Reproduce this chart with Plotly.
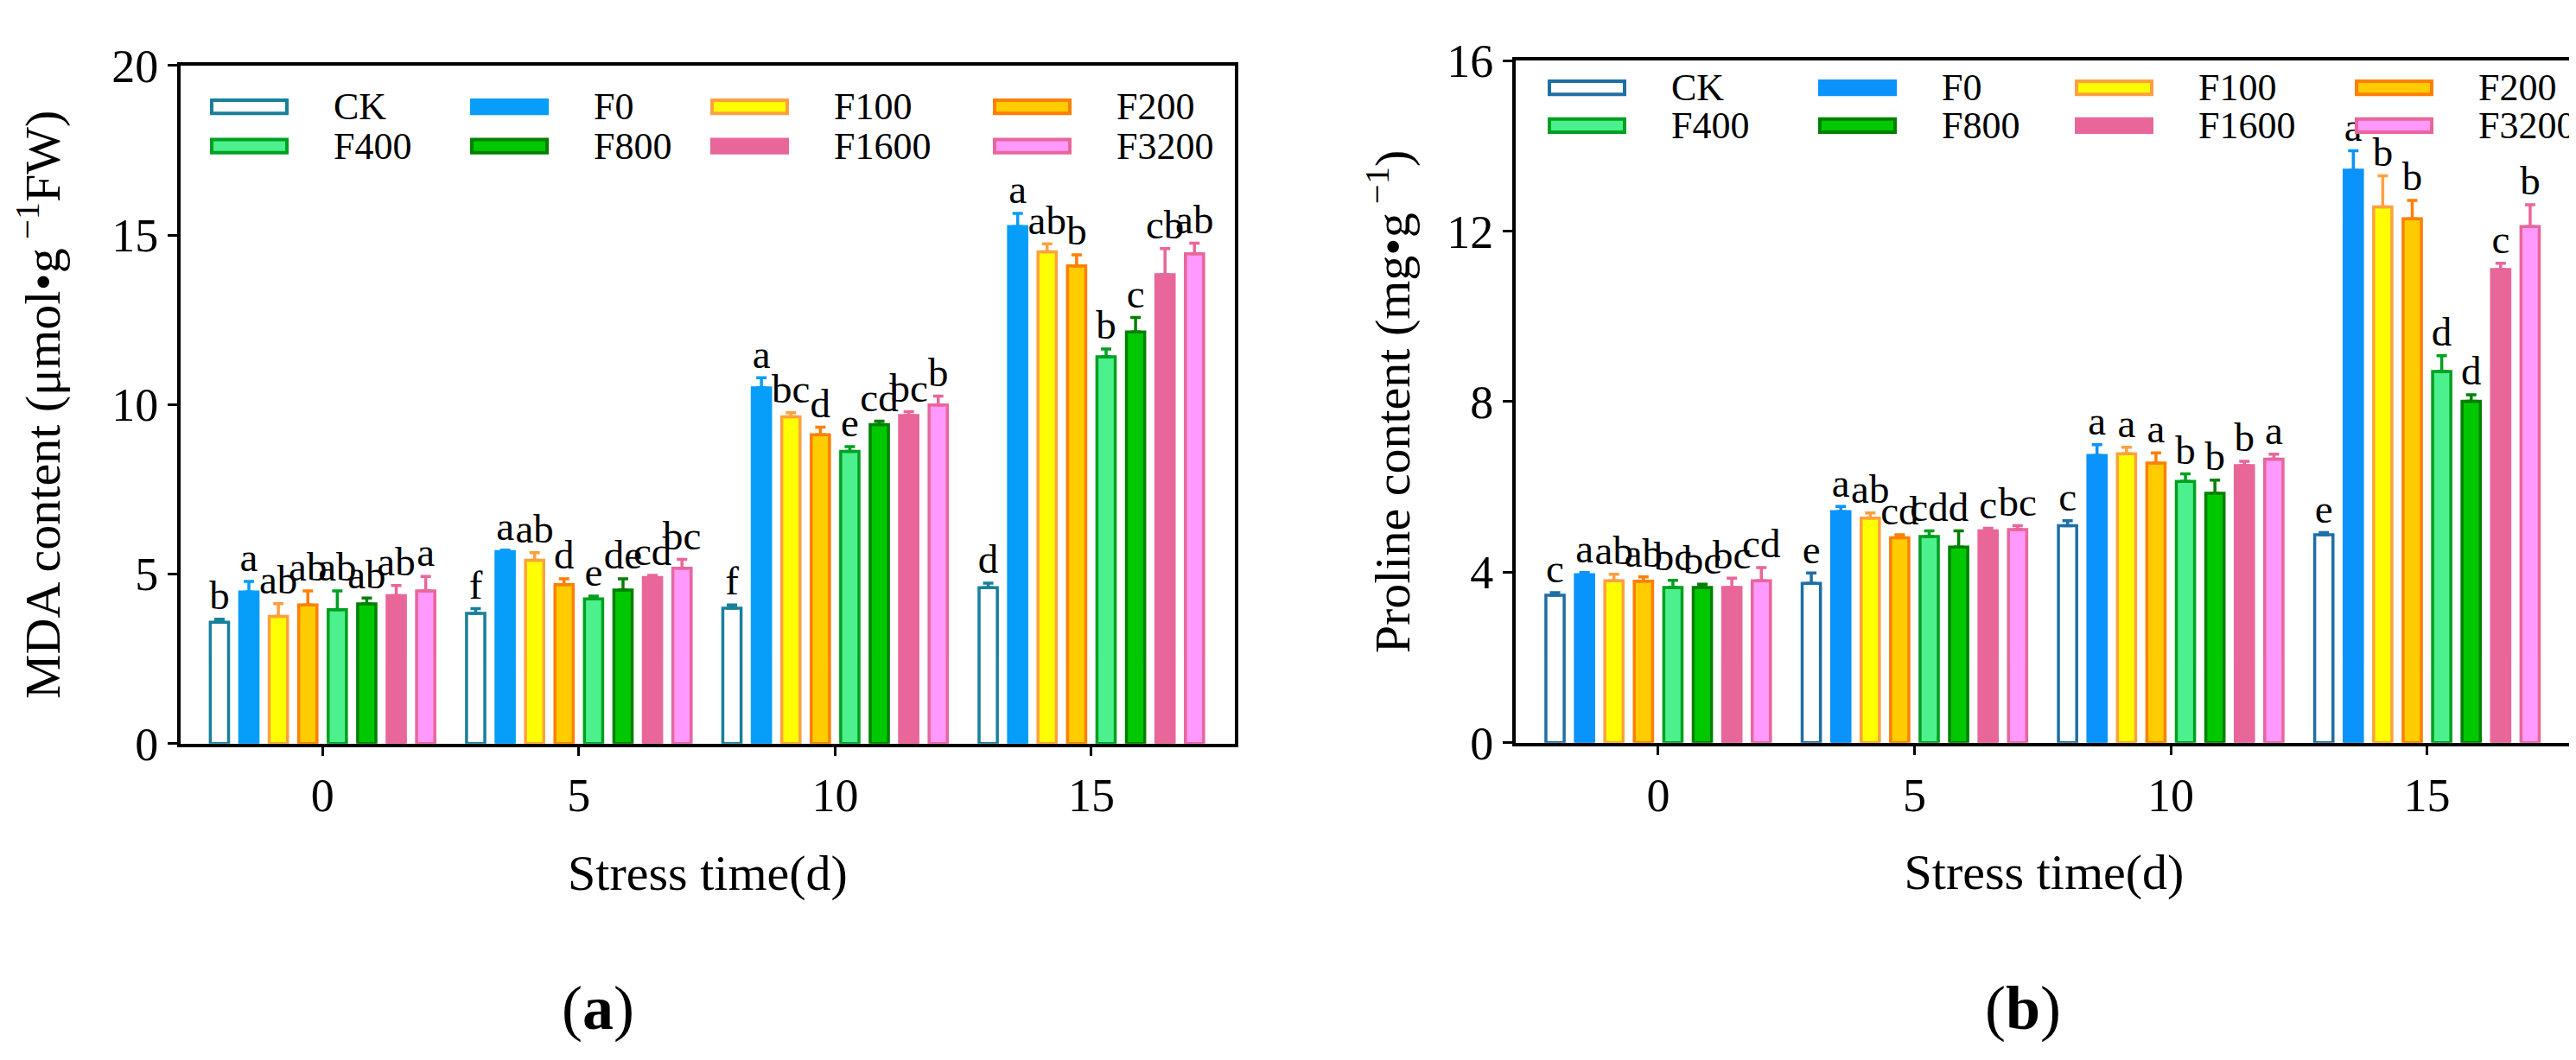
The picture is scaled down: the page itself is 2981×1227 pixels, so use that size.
import plotly.graph_objects as go

# ---------------- data ----------------
days = [0, 5, 10, 15]
treatments = ["CK", "F0", "F100", "F200", "F400", "F800", "F1600", "F3200"]

mda_mean = {
    "CK":    [3.58, 3.84, 3.99, 4.60],
    "F0":    [4.47, 5.66, 10.49, 15.25],
    "F100":  [3.75, 5.41, 9.64, 14.51],
    "F200":  [4.09, 4.69, 9.11, 14.09],
    "F400":  [3.95, 4.27, 8.62, 11.41],
    "F800":  [4.12, 4.53, 9.41, 12.14],
    "F1600": [4.36, 4.90, 9.68, 13.83],
    "F3200": [4.50, 5.17, 9.99, 14.45],
}
mda_err = {
    "CK":    [0.09, 0.14, 0.10, 0.13],
    "F0":    [0.31, 0.05, 0.30, 0.39],
    "F100":  [0.38, 0.22, 0.12, 0.23],
    "F200":  [0.41, 0.17, 0.22, 0.33],
    "F400":  [0.55, 0.08, 0.14, 0.23],
    "F800":  [0.17, 0.33, 0.10, 0.43],
    "F1600": [0.30, 0.06, 0.11, 0.77],
    "F3200": [0.43, 0.26, 0.26, 0.31],
}
mda_letters = {
    "CK":    ["b", "f", "f", "d"],
    "F0":    ["a", "a", "a", "a"],
    "F100":  ["ab", "ab", "bc", "ab"],
    "F200":  ["ab", "d", "d", "b"],
    "F400":  ["ab", "e", "e", "b"],
    "F800":  ["ab", "de", "cd", "c"],
    "F1600": ["ab", "cd", "bc", "cb"],
    "F3200": ["a", "bc", "b", "ab"],
}

pro_mean = {
    "CK":    [3.46, 3.74, 5.09, 4.88],
    "F0":    [3.94, 5.42, 6.74, 13.43],
    "F100":  [3.80, 5.27, 6.78, 12.57],
    "F200":  [3.79, 4.81, 6.56, 12.29],
    "F400":  [3.64, 4.84, 6.13, 8.71],
    "F800":  [3.64, 4.59, 5.85, 8.01],
    "F1600": [3.64, 4.97, 6.50, 11.10],
    "F3200": [3.80, 5.00, 6.65, 12.11],
}
pro_err = {
    "CK":    [0.06, 0.24, 0.12, 0.05],
    "F0":    [0.05, 0.12, 0.25, 0.46],
    "F100":  [0.15, 0.12, 0.15, 0.73],
    "F200":  [0.10, 0.07, 0.24, 0.43],
    "F400":  [0.17, 0.13, 0.18, 0.37],
    "F800":  [0.08, 0.38, 0.31, 0.15],
    "F1600": [0.22, 0.06, 0.10, 0.15],
    "F3200": [0.31, 0.09, 0.12, 0.51],
}
pro_letters = {
    "CK":    ["c", "e", "c", "e"],
    "F0":    ["a", "a", "a", "a"],
    "F100":  ["ab", "ab", "a", "b"],
    "F200":  ["ab", "cd", "a", "b"],
    "F400":  ["bc", "cd", "b", "d"],
    "F800":  ["bc", "d", "b", "d"],
    "F1600": ["bc", "c", "b", "c"],
    "F3200": ["cd", "bc", "a", "b"],
}

# ---------------- style ----------------
W, H = 2981, 1227
SERIF = "Liberation Serif, Times New Roman, serif"
fills = {"CK": "#ffffff", "F0": "#069ef9", "F100": "#ffff00", "F200": "#ffcc00",
         "F400": "#4cf08c", "F800": "#00c800", "F1600": "#e8669a", "F3200": "#ff99ff"}
edges_a = {"CK": "#17809a", "F0": "#069ef9", "F100": "#ffa040", "F200": "#ff7f00",
           "F400": "#00a020", "F800": "#008000", "F1600": "#e8669a", "F3200": "#e8669a"}
edges_b = dict(edges_a, CK="#1d6fa5", F0="#0a93fa")
fills_b = dict(fills, F0="#0a93fa")

BARGAP = 0.08
BARGROUPGAP = 0.38
slot = 5 * (1 - BARGAP) / len(treatments)

fig = go.Figure()

panels = [
    dict(mean=mda_mean, err=mda_err, let=mda_letters, xa="x", ya="y", fills=fills, edges=edges_a),
    dict(mean=pro_mean, err=pro_err, let=pro_letters, xa="x2", ya="y2", fills=fills_b, edges=edges_b),
]

for p in panels:
    for i, t in enumerate(treatments):
        fig.add_trace(go.Bar(
            x=days, y=p["mean"][t], name=t, showlegend=False,
            xaxis=p["xa"], yaxis=p["ya"],
            marker=dict(color=p["fills"][t], line=dict(color=p["edges"][t], width=3.5)),
            error_y=dict(type="data", symmetric=False, array=p["err"][t],
                         arrayminus=[0] * len(days), color=p["edges"][t],
                         thickness=3.5, width=6),
        ))
    for i, t in enumerate(treatments):
        off = (i - (len(treatments) - 1) / 2) * slot
        fig.add_trace(go.Scatter(
            x=[d + off for d in days],
            y=[m + e for m, e in zip(p["mean"][t], p["err"][t])],
            mode="text", text=p["let"][t], textposition="top center",
            textfont=dict(family=SERIF, size=47, color="black"),
            xaxis=p["xa"], yaxis=p["ya"], showlegend=False, hoverinfo="skip",
            cliponaxis=False,
        ))

# manual legends (swatches + labels), positions in page pixels
legend_cols = [[237, 538, 816, 1143], [1785, 2098, 2395, 2719]]
legend_rows = [[91, 139], [68, 114]]
SW_W, SW_H, TXT_DX = 87, 16, 139
shapes, annotations = [], []
for k, p in enumerate(panels):
    for i, t in enumerate(treatments):
        cx = legend_cols[k][i % 4]
        cy = legend_rows[k][i // 4]
        shapes.append(dict(type="rect", xref="paper", yref="paper",
                           x0=cx / W, x1=(cx + SW_W) / W,
                           y0=1 - (cy - SW_H / 2) / H, y1=1 - (cy + SW_H / 2) / H,
                           fillcolor=p["fills"][t],
                           line=dict(color=p["edges"][t], width=4)))
        annotations.append(dict(text=t, xref="paper", yref="paper",
                                x=(cx + TXT_DX) / W, y=1 - cy / H,
                                xanchor="left", yanchor="middle", showarrow=False,
                                font=dict(family=SERIF, size=44, color="black")))

annotations.append(dict(text="(<b>a</b>)", xref="paper", yref="paper", x=684 / W, y=1 - 1188 / H,
                        xanchor="center", yanchor="middle", showarrow=False,
                        font=dict(family=SERIF, size=72, color="black")))
annotations.append(dict(text="(<b>b</b>)", xref="paper", yref="paper", x=2333 / W, y=1 - 1188 / H,
                        xanchor="center", yanchor="middle", showarrow=False,
                        font=dict(family=SERIF, size=72, color="black")))

axis_common = dict(showline=True, linewidth=4, linecolor="black", mirror=True,
                   ticks="outside", tickwidth=3, tickcolor="black",
                   showgrid=False, zeroline=False,
                   tickfont=dict(family=SERIF, size=54, color="black"))

fig.update_layout(
    width=W, height=H,
    margin=dict(l=0, r=0, t=0, b=0),
    paper_bgcolor="white", plot_bgcolor="white",
    barmode="group", bargap=BARGAP, bargroupgap=BARGROUPGAP,
    font=dict(family=SERIF, color="black"),
    shapes=shapes, annotations=annotations,
    xaxis=dict(domain=[201 / W, 1421 / W], range=[-2.77, 17.8], anchor="y",
               tickvals=days, ticklen=10,
               title=dict(text="Stress time(d)", font=dict(family=SERIF, size=58), standoff=40),
               **axis_common),
    yaxis=dict(domain=[1 - 866 / H, 1 - 41 / H], range=[0, 20], anchor="x",
               tickvals=[0, 5, 10, 15, 20], ticklen=11,
               title=dict(text="MDA content (μmol•g<sup> −1</sup>FW)",
                          font=dict(family=SERIF, size=58), standoff=42),
               **axis_common),
    xaxis2=dict(domain=[1746 / W, 2969 / W], range=[-2.78, 17.84], anchor="y2",
                tickvals=days, ticklen=10,
                title=dict(text="Stress time(d)", font=dict(family=SERIF, size=58), standoff=40),
                **axis_common),
    yaxis2=dict(domain=[1 - 865 / H, 1 - 35 / H], range=[0, 16], anchor="x2",
                tickvals=[0, 4, 8, 12, 16], ticklen=11,
                title=dict(text="Proline content (mg•g<sup> −1</sup>)",
                           font=dict(family=SERIF, size=58), standoff=25),
                **axis_common),
)

fig.write_html("out.html")
